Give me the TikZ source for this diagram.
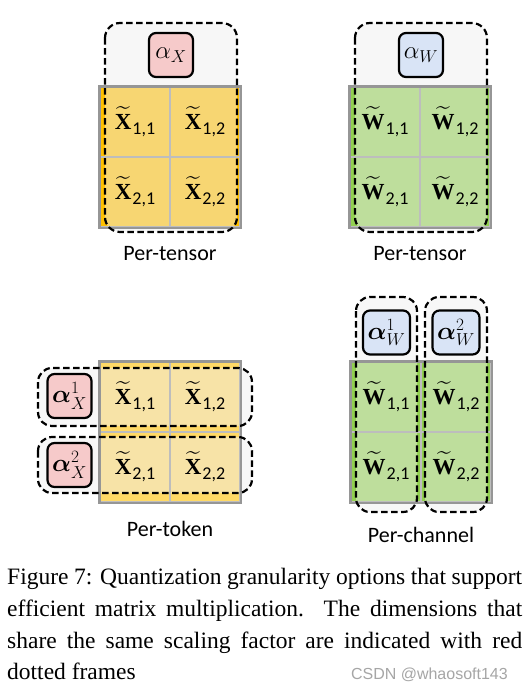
\documentclass[tikz,border=0pt]{standalone}
\usepackage{amsmath}
\usepackage[no-math]{fontspec}
\setmainfont{Carlito}
\newfontfamily\capfont{Liberation Serif}
\newfontfamily\wmfont{Liberation Sans}
\definecolor{goldA}{HTML}{FFC000}
\definecolor{goldB}{HTML}{FFD966}
\definecolor{greenA}{HTML}{92D050}
\definecolor{pinkA}{HTML}{F6CACA}
\definecolor{blueA}{HTML}{D9E4F6}
\definecolor{cellline}{HTML}{BDBDBD}
\definecolor{gridout}{HTML}{969696}
\definecolor{veilgray}{HTML}{EFEFEF}
\definecolor{wmgray}{HTML}{A6A6A6}
\pgfdeclarelayer{bg}
\pgfdeclarelayer{mid}
\pgfsetlayers{bg,mid,main}
\newcommand\clab[2]{$\widetilde{\text{\capfont\bfseries #1}}$\kern1pt\raisebox{-5.5pt}{\fontsize{18}{18}\selectfont #2}}
\begin{document}
\begin{tikzpicture}[x=1pt,y=-1pt,
  cell/.style={draw=cellline,line width=1.6pt,minimum width=70pt,minimum height=70pt,inner sep=0pt,font=\fontsize{23}{23}\selectfont},
  gridborder/.style={draw=gridout,line width=2.6pt},
  frame/.style={draw=black,line width=2.2pt,dash pattern=on 6.5pt off 3.5pt,rounded corners=15pt},
  veil/.style={fill=veilgray,fill opacity=0.48,rounded corners=15pt},
  abox/.style={draw=black,line width=2.2pt,rounded corners=7pt,minimum width=44pt,minimum height=44pt,inner sep=0pt,font=\fontsize{27}{27}\selectfont},
  plabel/.style={font=\fontsize{22}{22}\selectfont},
  capt/.style={font=\capfont\fontsize{23.5}{32}\selectfont,inner sep=0pt,anchor=base west}
]
\useasboundingbox (0,0) rectangle (532,683);
\begin{pgfonlayer}{bg}
  \fill[white] (0,0) rectangle (532,683);
  \fill[goldA] (100,87) rectangle (240,227);
  \fill[greenA] (350,87) rectangle (490,227);
  \fill[goldB] (100,362) rectangle (240,502);
  \fill[greenA] (351,362) rectangle (491,502);
\end{pgfonlayer}
\begin{pgfonlayer}{mid}
  \fill[veil] (105,23) rectangle (237,232);
  \fill[veil] (355,23) rectangle (487,232);
  \fill[veil,rounded corners=14pt] (38,368) rectangle (252,426);
  \fill[veil,rounded corners=14pt] (38,437) rectangle (252,493);
  \fill[veil,rounded corners=14pt] (356,297) rectangle (417,512);
  \fill[veil,rounded corners=14pt] (425,297) rectangle (487,512);
\end{pgfonlayer}

% ---- top left: per-tensor X
\node[cell] (ax11) at (135,122) {\clab{X}{1,1}};
\node[cell] (ax12) at (205,122) {\clab{X}{1,2}};
\node[cell] (ax21) at (135,192) {\clab{X}{2,1}};
\node[cell] (ax22) at (205,192) {\clab{X}{2,2}};
\draw[gridborder] (ax11.north west) rectangle (ax22.south east);
\draw[frame] (105,23) rectangle (237,232);
\node[abox,fill=pinkA] (aalpha) at (171,55) {$\alpha_X$};
\node[plabel] (alab) at (170,254) {Per-tensor};

% ---- top right: per-tensor W
\node[cell] (bw11) at (385,122) {\clab{W}{1,1}};
\node[cell] (bw12) at (455,122) {\clab{W}{1,2}};
\node[cell] (bw21) at (385,192) {\clab{W}{2,1}};
\node[cell] (bw22) at (455,192) {\clab{W}{2,2}};
\draw[gridborder] (bw11.north west) rectangle (bw22.south east);
\draw[frame] (355,23) rectangle (487,232);
\node[abox,fill=blueA] (balpha) at (421,55) {$\alpha_W$};
\node[plabel] (blab) at (420,254) {Per-tensor};

% ---- bottom left: per-token X
\node[cell] (cx11) at (135,397) {\clab{X}{1,1}};
\node[cell] (cx12) at (205,397) {\clab{X}{1,2}};
\node[cell] (cx21) at (135,467) {\clab{X}{2,1}};
\node[cell] (cx22) at (205,467) {\clab{X}{2,2}};
\draw[gridborder] (cx11.north west) rectangle (cx22.south east);
\draw[frame,rounded corners=14pt] (38,368) rectangle (252,426);
\draw[frame,rounded corners=14pt] (38,437) rectangle (252,493);
\node[abox,fill=pinkA] (calpha1) at (69.5,396) {$\boldsymbol{\alpha}_X^1$};
\node[abox,fill=pinkA] (calpha2) at (69.5,465) {$\boldsymbol{\alpha}_X^2$};
\node[plabel] (clab) at (170,529) {Per-token};

% ---- bottom right: per-channel W
\node[cell] (dw11) at (386,397) {\clab{W}{1,1}};
\node[cell] (dw12) at (456,397) {\clab{W}{1,2}};
\node[cell] (dw21) at (386,467) {\clab{W}{2,1}};
\node[cell] (dw22) at (456,467) {\clab{W}{2,2}};
\draw[gridborder] (dw11.north west) rectangle (dw22.south east);
\draw[frame,rounded corners=14pt] (356,297) rectangle (417,512);
\draw[frame,rounded corners=14pt] (425,297) rectangle (487,512);
\node[abox,fill=blueA,minimum width=47pt] (dalpha1) at (386.5,332.5) {$\boldsymbol{\alpha}_W^1$};
\node[abox,fill=blueA,minimum width=47pt] (dalpha2) at (456,332.5) {$\boldsymbol{\alpha}_W^2$};
\node[plabel] (dlab) at (421,535) {Per-channel};

% ---- caption
\node[capt] (cap1) at (7,584) {\makebox[515pt][s]{Figure 7: Quantization granularity options that support}};
\node[capt] (cap2) at (7,616) {\makebox[515pt][s]{efficient matrix multiplication.  The dimensions that}};
\node[capt] (cap3) at (7,648) {\makebox[515pt][s]{share the same scaling factor are indicated with red}};
\node[capt] (cap4) at (7,679) {dotted frames};
\node[font=\wmfont\fontsize{16}{16}\selectfont,text=wmgray,inner sep=0pt,anchor=base east] (wm) at (508,679) {CSDN @whaosoft143};
\end{tikzpicture}
\end{document}
